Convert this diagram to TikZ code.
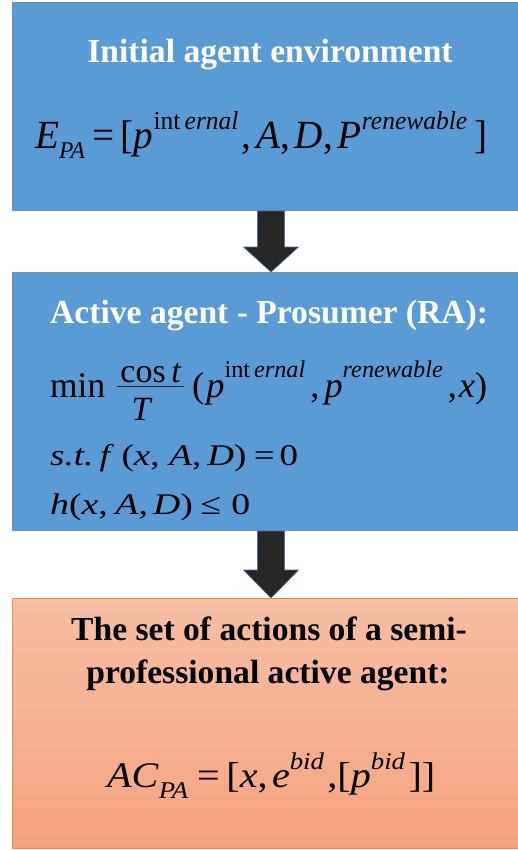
\documentclass[tikz,border=0pt]{standalone}
\usepackage{graphicx}
\usepackage{fontspec}
\setmainfont{Liberation Serif}
\usetikzlibrary{calc}

\definecolor{boxblue}{HTML}{5B9BD5}
\definecolor{boxblueline}{HTML}{6C8EBF}
\definecolor{arrowdark}{HTML}{262626}
\definecolor{arrowedge}{HTML}{4E6F9A}
\definecolor{salmontop}{HTML}{F6BEA5}
\definecolor{salmonbot}{HTML}{F6A47F}
\definecolor{orangeline}{HTML}{EE8A4E}

% raised or lowered script: shift, size, text
\newcommand\hi[3]{\raisebox{#1}{\fontsize{#2}{#2}\selectfont #3}}
% a formula set at size #2 and stretched to width #1
\newcommand\formula[3]{\resizebox{#1}{\height}{\fontsize{#2}{#2}\selectfont #3}}

\tikzset{
  bluebox/.style={draw=boxblueline, line width=1pt, fill=boxblue,
    minimum width=512pt, inner sep=0pt, anchor=north west},
  salmonbox/.style={draw=orangeline, line width=1pt,
    top color=salmontop, bottom color=salmonbot,
    minimum width=512pt, inner sep=0pt, anchor=north west},
  blockarrow/.style={fill=arrowdark, draw=arrowedge, line width=0.6pt},
  title/.style={inner sep=0pt, font=\fontsize{33.6}{40}\selectfont\bfseries},
  eqpart/.style={inner sep=0pt, anchor=base west},
  fracbar/.style={line width=1.8pt, draw=black!85},
}

% block arrow from the bottom of #1 to the top of #2, head length #3
\newcommand\flowarrow[3]{%
  \coordinate (s) at (#1.south -| axis);
  \coordinate (t) at (#2.north -| axis);
  \draw[blockarrow] ($(s)+(-13.5,0)$) -- ($(s)+(13.5,0)$)
    -- ($(t)+(13.5,-#3)$) -- ($(t)+(27.5,-#3)$) -- (t)
    -- ($(t)+(-27.5,-#3)$) -- ($(t)+(-13.5,-#3)$) -- cycle;
}

\begin{document}
\begin{tikzpicture}[x=1pt, y=-1pt]
\useasboundingbox (0,0) rectangle (518,850);

% boxes
\node[bluebox, minimum height=208pt] (env) at (12,2) {};
\node[bluebox, minimum height=258pt] (ra) at (12,272) {};
\node[salmonbox, minimum height=250pt] (act) at (12,598) {};

\coordinate (axis) at (271,0);
\flowarrow{env}{ra}{25}
\flowarrow{ra}{act}{28}

% initial environment
\node[title, text=white, anchor=base] (t1) at (270,63) {Initial agent environment};
\node[eqpart] (e1) at (35,149) {\formula{452pt}{40}{%
  \textit{E}\hi{-10pt}{24}{\textit{PA}}\hspace{8pt}=\hspace{6pt}[\textit{p}%
  \hi{19pt}{26}{int\,\textit{ernal}}\hspace{3pt},\hspace{5pt}\textit{A},%
  \hspace{5pt}\textit{D},\hspace{5pt}\textit{P}\hi{19pt}{26}{\textit{renewable}}%
  \hspace{7pt}]}};

% prosumer
\node[title, text=white, anchor=base west] (t2) at (50,323) {Active agent - Prosumer (RA):};
\node[eqpart] (e2min) at (50,397) {\formula{55pt}{36}{min}};
\node[inner sep=0pt, anchor=base] (e2num) at (151,382) {\fontsize{34}{34}\selectfont cos\,\textit{t}};
\node[inner sep=0pt, anchor=base] (e2den) at (142,420) {\fontsize{34}{34}\selectfont\textit{T}};
\draw[fracbar] (e2num.south -| e2min.east) ++(12,4) coordinate (barl) -- (barl -| e2num.east) -- ++(2,0);
\node[eqpart] (e2) at (192,397) {\formula{295pt}{36}{%
  (\hspace{2pt}\textit{p}\hi{20pt}{24}{int\,\textit{ernal}}\hspace{5pt},\hspace{5pt}%
  \textit{p}\hi{20pt}{24}{\textit{renewable}}\hspace{5pt},\hspace{2pt}\textit{x})}};
\node[eqpart] (e3) at (50,465) {\formula{248pt}{30}{%
  \textit{s.t.}\,\textit{f}\hspace{6pt}(\textit{x},\hspace{8pt}\textit{A},%
  \hspace{5pt}\textit{D})\hspace{6pt}=\hspace{4pt}0}};
\node[eqpart] (e4) at (50,514) {\formula{200pt}{30}{%
  \textit{h}(\textit{x},\hspace{6pt}\textit{A},\hspace{4pt}\textit{D})\hspace{6pt}≤%
  \hspace{8pt}0}};

% actions
\node[title, anchor=base] (t3a) at (269,640) {The set of actions of a semi-};
\node[title, anchor=base] (t3b) at (268,683) {professional active agent:};
\node[eqpart] (e5) at (107,787) {\formula{328pt}{36}{%
  \textit{AC}\hi{-11pt}{24}{\textit{PA}}\hspace{8pt}=\hspace{6pt}[\textit{x},%
  \hspace{4pt}\textit{e}\hi{18pt}{24}{\textit{bid}}\hspace{3pt},[\textit{p}%
  \hi{18pt}{24}{\textit{bid}}\hspace{3pt}]]}};
\end{tikzpicture}
\end{document}
